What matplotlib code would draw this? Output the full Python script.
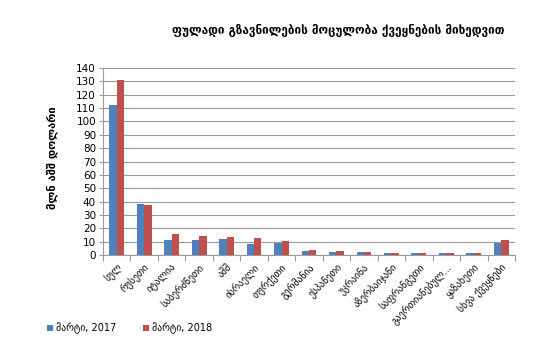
import numpy as np
import matplotlib
matplotlib.use("Agg")
import matplotlib.pyplot as plt

plt.rcParams["font.family"] = ["DejaVu Sans"]

categories = ["სულ", "რუსეთი", "იტალია", "საბერძნეთი", "აშშ", "ისრაელი", "თურქეთი",
              "გერმანია", "ესპანეთი", "უკრაინა", "აზერბაიჯანი", "საფრანგეთი",
              "გაერთიანებულ...", "ყაზახეთი", "სხვა ქვეყნები"]
values_2017 = [112, 38.3, 11, 11, 11.8, 8.2, 9, 2.8, 2.5, 2, 1.5, 1.5, 1.5, 1.5, 9]
values_2018 = [131, 37.5, 15.5, 14, 13.2, 12.5, 10.2, 3.4, 3.2, 2, 1.5, 1.5, 1.5, 1.5, 11.5]
labels = ["მარტი, 2017", "მარტი, 2018"]
title = "ფულადი გზავნილების მოცულობა ქვეყნების მიხედვით"
ylabel = "მლნ აშშ დოლარი"

fig = plt.figure(figsize=(5.57, 3.54), dpi=100)
ax = fig.add_axes([103 / 557, 1 - 255 / 354, 412 / 557, 187 / 354])

x = np.arange(len(categories))
w = 0.27
ax.bar(x - w / 2, values_2017, w, color="#4F81BD", label=labels[0], zorder=3)
ax.bar(x + w / 2, values_2018, w, color="#C0504D", label=labels[1], zorder=3)

ax.set_xlim(-0.5, len(categories) - 0.5)
ax.set_ylim(0, 140)
ax.set_yticks(range(0, 141, 10))
ax.yaxis.grid(True, color="#9a9a9a", linewidth=0.8, zorder=0)
ax.tick_params(axis="y", labelsize=7.5, length=3, color="#9a9a9a", pad=2)

ax.set_xticks(np.arange(-0.5, len(categories), 1), minor=False)
ax.set_xticklabels([])
ax.tick_params(axis="x", which="major", length=4, color="#9a9a9a")
ax.set_xticks(x, minor=True)
ax.set_xticklabels(categories, minor=True, rotation=45, ha="right",
                   rotation_mode="anchor", fontsize=7)
ax.tick_params(axis="x", which="minor", length=0, pad=5)

for s in ["top", "right"]:
    ax.spines[s].set_visible(False)
for s in ["left", "bottom"]:
    ax.spines[s].set_color("#9a9a9a")

fig.text(338 / 557, 1 - 30 / 354, title, ha="center", va="center",
         fontsize=8.5, fontweight="bold")
fig.text(52 / 557, 1 - 158 / 354, ylabel, ha="center", va="center",
         rotation=90, fontsize=8, fontweight="bold")

fig.legend(loc="lower left", bbox_to_anchor=(42 / 557, 15 / 354), ncol=2,
           frameon=False, fontsize=7, handlelength=0.6, handleheight=0.6,
           columnspacing=2.8, handletextpad=0.3, borderpad=0)

fig.savefig("out.png", dpi=100)
plt.close("all")
